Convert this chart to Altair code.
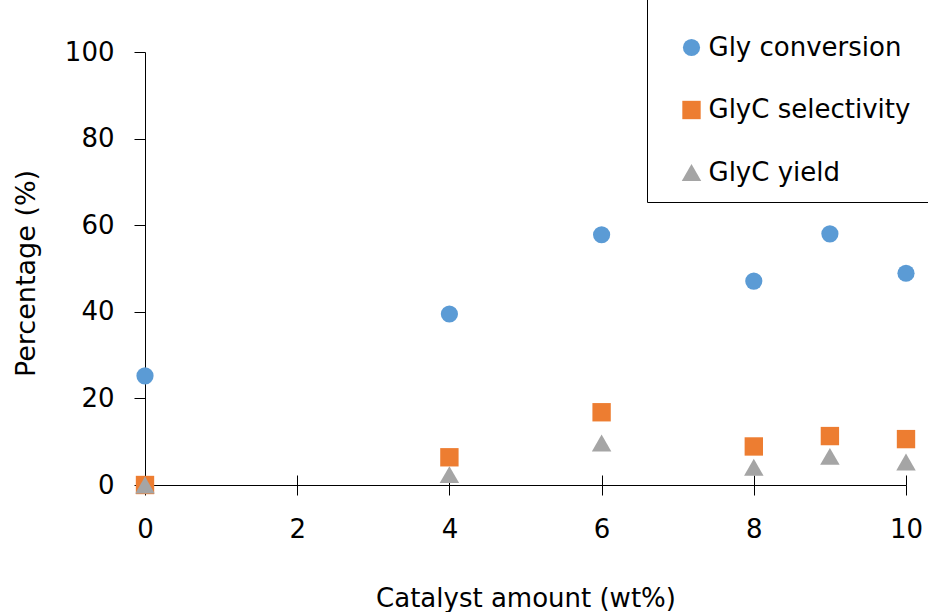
import altair as alt
import pandas as pd

# Catalyst loading (wt%) and the three measured responses (%)
catalyst_wt = [0, 4, 6, 8, 9, 10]
gly_conversion = [25.2, 39.5, 57.8, 47.1, 58.0, 48.9]
glyc_selectivity = [0.0, 6.4, 16.8, 8.9, 11.3, 10.6]
glyc_yield = [0.0, 2.4, 9.7, 4.1, 6.6, 5.3]

series_names = ["Gly conversion", "GlyC selectivity", "GlyC yield"]
series_colors = ["#5B9BD5", "#ED7D31", "#A5A5A5"]
series_shapes = ["circle", "square", "triangle-up"]
series_sizes = [295, 380, 370]

x_ticks = [0, 2, 4, 6, 8, 10]
y_ticks = [0, 20, 40, 60, 80, 100]

rows = []
for name, values in zip(series_names, [gly_conversion, glyc_selectivity, glyc_yield]):
    for x, v in zip(catalyst_wt, values):
        rows.append({"series": name, "catalyst": x, "percentage": v})
df = pd.DataFrame(rows)

FONT = "DejaVu Sans"
W, H = 761, 433

x_scale = alt.Scale(domain=[0, 10], nice=False, zero=False)
y_scale = alt.Scale(domain=[0, 100], nice=False)

# Blank title and blank-glyph label tails keep the legend frame running off the top and right edges
legend = alt.Legend(
    title="\u00a0",
    orient="none",
    legendX=502,
    legendY=-62,
    labelExpr="datum.label + '\u2800\u2800\u2800\u2800\u2800\u2800'",
)

points = alt.Chart(df).mark_point(filled=True, opacity=1).encode(
    x=alt.X(
        "catalyst:Q",
        scale=x_scale,
        axis=alt.Axis(
            orient="bottom",
            values=x_ticks,
            tickSize=10,
            labelPadding=21,
            labelFlush=False,
            title="Catalyst amount (wt%)",
            titlePadding=43,
        ),
    ),
    y=alt.Y(
        "percentage:Q",
        scale=y_scale,
        axis=alt.Axis(
            values=y_ticks,
            tickSize=11,
            labelPadding=20,
            labelFlush=False,
            title="Percentage (%)",
            titlePadding=24,
            titleFontSize=27,
            titleY=221,
        ),
    ),
    color=alt.Color(
        "series:N",
        scale=alt.Scale(domain=series_names, range=series_colors),
        legend=legend,
    ),
    shape=alt.Shape(
        "series:N",
        scale=alt.Scale(domain=series_names, range=series_shapes),
        legend=legend,
    ),
    size=alt.Size(
        "series:N",
        scale=alt.Scale(domain=series_names, range=series_sizes),
        legend=None,
    ),
)

# Upper half of the crossing x ticks: a tick-only axis pulled down onto the baseline
upper_ticks = alt.Chart(df).mark_point(opacity=0).encode(
    x=alt.X(
        "catalyst:Q",
        scale=x_scale,
        axis=alt.Axis(
            orient="top",
            offset=-H,
            values=x_ticks,
            labels=False,
            domain=False,
            tickSize=10,
            title=None,
        ),
    ),
)

chart = (
    alt.layer(points, upper_ticks)
    .resolve_axis(x="independent")
    .properties(
        width=W,
        height=H,
        padding={"left": 145, "top": 52, "right": 22, "bottom": 127},
        autosize=alt.AutoSizeParams(type="none"),
        background="white",
    )
    .configure_view(stroke=None)
    .configure_axis(
        labelFont=FONT,
        titleFont=FONT,
        labelFontSize=26,
        titleFontSize=26,
        labelColor="black",
        titleColor="black",
        titleFontWeight="normal",
        domainColor="black",
        tickColor="black",
        domainWidth=1,
        tickWidth=1,
        grid=False,
    )
    .configure_legend(
        padding=16,
        strokeColor="black",
        fillColor="white",
        labelFont=FONT,
        labelFontSize=26,
        labelColor="black",
        labelLimit=400,
        titleFont=FONT,
        titleFontSize=10,
        titlePadding=18.5,
        titleLimit=1000,
        symbolSize=330,
        symbolOffset=15.5,
        symbolStrokeWidth=0,
        labelOffset=4,
        rowPadding=36.5,
    )
)

chart.save("out.html", embed_options={"renderer": "svg", "actions": False})
